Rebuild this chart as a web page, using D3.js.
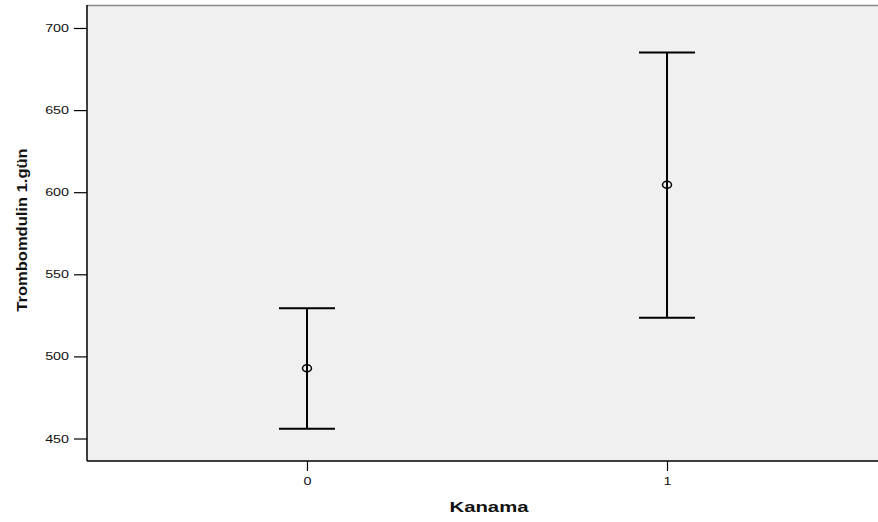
<!DOCTYPE html>
<html><head><meta charset="utf-8">
<script src="https://cdn.jsdelivr.net/npm/d3@7"></script>
<style>body{margin:0;background:#fff}svg{display:block}</style>
</head><body>
<script>
const categories = ["0", "1"];
const means = [492.8, 604.5];
const lowers = [456.0, 523.6];
const uppers = [529.3, 685.0];
const yTicks = [450, 500, 550, 600, 650, 700];

const W = 878, H = 522;
const L = 87, T = 5, B = 461, R = 887;
const FONT = "Arial, 'Liberation Sans', sans-serif";
const svg = d3.select("body").append("svg").attr("width", W).attr("height", H);

const x = d3.scalePoint().domain(categories).range([L, R]).padding(0.611);
const y = d3.scaleLinear().domain([436.3, 714]).range([B, T]);

function stretch(sel, k) {
  sel.each(function () {
    const len = this.getComputedTextLength();
    d3.select(this).attr("textLength", len * k).attr("lengthAdjust", "spacingAndGlyphs");
  });
}

svg.append("rect").attr("x", L).attr("y", T).attr("width", R - L).attr("height", B - T).attr("fill", "#f0f0f0");
svg.append("line").attr("x1", L).attr("x2", W).attr("y1", T + 0.5).attr("y2", T + 0.5).attr("stroke", "#888").attr("stroke-width", 1.5);

const yAxis = svg.append("g").attr("transform", `translate(${L},0)`)
  .call(d3.axisLeft(y).tickValues(yTicks).tickSize(13).tickPadding(5));
const xAxis = svg.append("g").attr("transform", `translate(0,${B})`)
  .call(d3.axisBottom(x).tickSize(10).tickPadding(6));
[yAxis, xAxis].forEach(g => {
  g.select(".domain").attr("stroke", "#000").attr("stroke-width", 1.5);
  g.selectAll(".tick line").attr("stroke", "#000").attr("stroke-width", 1.2);
  g.selectAll("text").attr("fill", "#111").style("font-family", FONT).style("font-size", "11px");
  stretch(g.selectAll("text"), 1.3);
});
xAxis.select(".domain").attr("d", `M${L},0H${W}`);
yAxis.select(".domain").attr("d", `M0,${T}V${B}`);

const g = svg.append("g");
categories.forEach((c, i) => {
  const cx = x(c);
  g.append("line").attr("x1", cx).attr("x2", cx).attr("y1", y(uppers[i])).attr("y2", y(lowers[i])).attr("stroke", "#000").attr("stroke-width", 2);
  [uppers[i], lowers[i]].forEach(v => {
    g.append("line").attr("x1", cx - 28).attr("x2", cx + 28).attr("y1", y(v)).attr("y2", y(v)).attr("stroke", "#000").attr("stroke-width", 2);
  });
  g.append("ellipse").attr("cx", cx).attr("cy", y(means[i])).attr("rx", 4.5).attr("ry", 3.5).attr("fill", "none").attr("stroke", "#000").attr("stroke-width", 1.5);
});

const xl = svg.append("text").attr("x", 489).attr("y", 512).attr("text-anchor", "middle").attr("fill", "#111")
  .style("font-family", FONT).style("font-size", "14px").style("font-weight", "bold").text("Kanama");
stretch(xl, 1.45);
const yl = svg.append("text").attr("transform", `translate(27,230) rotate(-90)`).attr("text-anchor", "middle").attr("fill", "#111")
  .style("font-family", FONT).style("font-size", "14px").style("font-weight", "bold").text("Trombomdulin 1.gün");
stretch(yl, 1.18);
</script>
</body></html>
